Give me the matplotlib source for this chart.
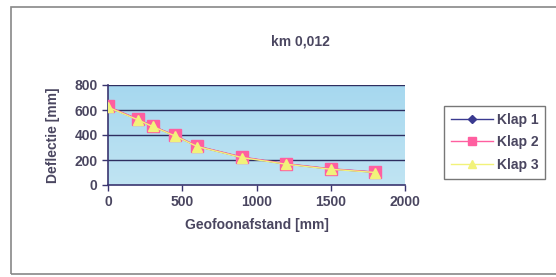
import matplotlib
matplotlib.use("Agg")
import matplotlib.pyplot as plt
import numpy as np
from matplotlib.patches import Rectangle
from matplotlib.colors import LinearSegmentedColormap

plt.rcParams['font.family'] = ['Liberation Sans', 'DejaVu Sans']

x_mm = [0, 200, 300, 450, 600, 900, 1200, 1500, 1800]
klap1 = [625, 525, 470, 395, 310, 222, 168, 128, 102]
klap2 = [628, 528, 472, 397, 312, 225, 170, 130, 104]
klap3 = [622, 522, 468, 393, 308, 220, 166, 126, 100]
series_names = ["Klap 1", "Klap 2", "Klap 3"]
x_ticks = [0, 500, 1000, 1500, 2000]
y_ticks = [0, 200, 400, 600, 800]

txt = '#4a4660'
axc = '#3a3570'

fig = plt.figure(figsize=(5.56, 2.77), dpi=100)
fig.patch.set_facecolor('white')
# outer frame
fig.add_artist(Rectangle((11/556, 1-274/277), 1.2, (274-7)/277, transform=fig.transFigure,
                         fill=False, edgecolor='#888888', linewidth=1.2))

ax = fig.add_axes([108/556, 1-185/277, (405-108)/556, (185-85)/277])
grad = np.linspace(0, 1, 256).reshape(-1, 1)
cmap = LinearSegmentedColormap.from_list('bg', ['#c0e4f3', '#a6d8ef'])
ax.imshow(grad, aspect='auto', cmap=cmap, extent=[0, 2000, 0, 800], origin='lower', zorder=0)

ax.set_xlim(0, 2000)
ax.set_ylim(0, 800)
ax.set_xticks(x_ticks)
ax.set_yticks(y_ticks)
for y in y_ticks[1:]:
    ax.axhline(y, color='#2e2e60', linewidth=1.0, zorder=1)

ax.plot(x_mm, klap1, color='#3a3a90', marker='D', markersize=5, linewidth=1, zorder=3, label=series_names[0])
ax.plot(x_mm, klap2, color='#ff5fa0', marker='s', markersize=8, linewidth=1, zorder=4, label=series_names[1])
ax.plot(x_mm, klap3, color='#f2f27a', marker='^', markersize=7, linewidth=1, zorder=5, label=series_names[2])

for s in ['top', 'right']:
    ax.spines[s].set_visible(False)
for s in ['left', 'bottom']:
    ax.spines[s].set_color(axc)
    ax.spines[s].set_linewidth(1.2)
ax.tick_params(colors=axc, width=1, length=4, labelcolor=txt, labelsize=10)
for lab in ax.get_xticklabels() + ax.get_yticklabels():
    lab.set_fontweight('bold')

ax.set_xlabel('Geofoonafstand [mm]', color=txt, fontsize=10, fontweight='bold', labelpad=6)
ax.set_ylabel('Deflectie [mm]', color=txt, fontsize=10, fontweight='bold', labelpad=10)
fig.text(300/556, 1-42/277, 'km 0,012', color=txt, fontsize=10, fontweight='bold', ha='center', va='center')

leg = fig.legend(loc='upper left', bbox_to_anchor=(437/556, 1-99/277), frameon=True,
                 fancybox=False, edgecolor='#555555', prop={'weight': 'bold', 'size': 10},
                 handlelength=3, borderpad=0.5, labelspacing=0.6, markerscale=0.75,
                 handletextpad=0.3)
for t in leg.get_texts():
    t.set_color(txt)

fig.savefig('out.png', dpi=100)
